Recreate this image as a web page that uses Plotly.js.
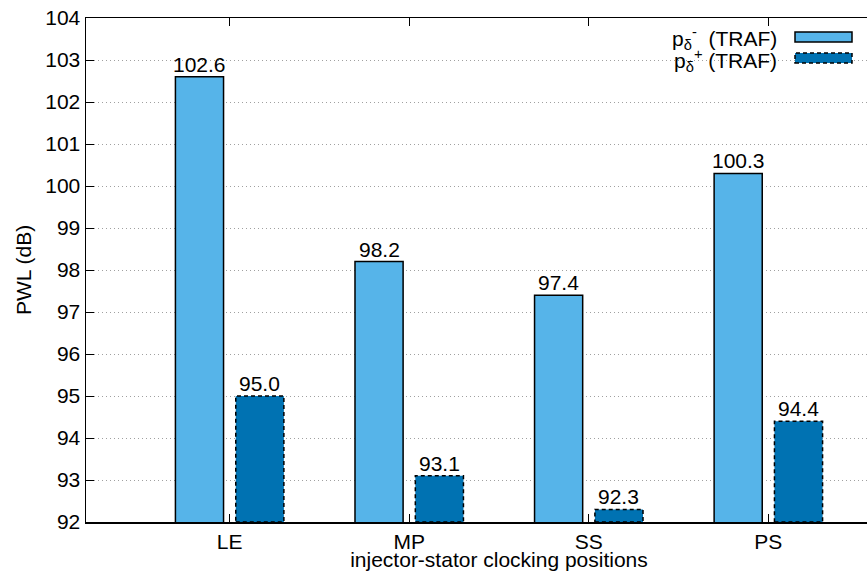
<!DOCTYPE html>
<html>
<head>
<meta charset="utf-8">
<script src="https://cdn.plot.ly/plotly-3.0.1.min.js"></script>
<style>
  html, body { margin: 0; padding: 0; overflow: hidden; background: #fff; }
  #chart { width: 912px; height: 571px; }
</style>
</head>
<body>
<div id="chart"></div>
<script>
// Clocking positions and sound power levels for both pressure-side groups
const positions = ['LE', 'MP', 'SS', 'PS'];
const pwlMinus = [102.6, 98.2, 97.4, 100.3];
const pwlPlus = [95.0, 93.1, 92.3, 94.4];
const seriesNames = ['p<sub>δ</sub><sup>-</sup>  (TRAF)', 'p<sub>δ</sub><sup>+</sup> (TRAF)'];

const FONT = 'Liberation Sans, Arial, sans-serif';
const FS = 21;
const LIGHT = '#56b4e9';
const DARK = '#0072b2';
const BAR_W = 0.268;
const OFF1 = -0.302;
const OFF2 = 0.034;
const Y0 = 92;

const idx = positions.map((_, i) => i);

const barLabels = (vals, off) => vals.map((v, i) => ({
  xref: 'x', yref: 'y', x: i + off + BAR_W / 2, y: v,
  xanchor: 'center', yanchor: 'bottom', yshift: -1,
  text: v.toFixed(1), showarrow: false,
  font: { family: FONT, size: FS, color: '#000' }
}));

const traces = [
  {
    type: 'bar', x: idx, y: pwlMinus,
    width: BAR_W, offset: OFF1,
    marker: { color: LIGHT, line: { color: '#000', width: 1.5 } },
    showlegend: false, hoverinfo: 'y'
  },
  {
    type: 'bar', x: idx, y: pwlPlus,
    width: BAR_W, offset: OFF2,
    marker: { color: DARK, line: { width: 0 } },
    showlegend: false, hoverinfo: 'y'
  }
];

// dashed outlines around the second series
const shapes = pwlPlus.map((v, i) => ({
  type: 'rect', xref: 'x', yref: 'y', layer: 'above',
  x0: i + OFF2, x1: i + OFF2 + BAR_W, y0: Y0, y1: v,
  line: { color: '#000', width: 1.5, dash: '4px,3px' }, fillcolor: 'rgba(0,0,0,0)'
}));

// key: white backing plus sample boxes to the right of the labels
const px = p => (p - 86) / 826;
const py = p => (522 - p) / 504;
shapes.push({
  type: 'rect', xref: 'paper', yref: 'paper', layer: 'between',
  x0: px(662), x1: 1, y0: py(68), y1: py(19),
  line: { width: 0 }, fillcolor: '#fff'
});
shapes.push({
  type: 'rect', xref: 'paper', yref: 'paper', layer: 'above',
  x0: px(795), x1: px(852), y0: py(42), y1: py(32),
  line: { color: '#000', width: 1.5 }, fillcolor: LIGHT
});
shapes.push({
  type: 'rect', xref: 'paper', yref: 'paper', layer: 'above',
  x0: px(795), x1: px(852), y0: py(63), y1: py(53),
  line: { color: '#000', width: 1.5, dash: '4px,3px' }, fillcolor: DARK
});

const annotations = [
  { xref: 'paper', yref: 'paper', x: px(779), y: py(39), xanchor: 'right', yanchor: 'middle',
    text: seriesNames[0], showarrow: false, font: { family: FONT, size: FS, color: '#000' } },
  { xref: 'paper', yref: 'paper', x: px(779), y: py(60), xanchor: 'right', yanchor: 'middle',
    text: seriesNames[1], showarrow: false, font: { family: FONT, size: FS, color: '#000' } }
].concat(barLabels(pwlMinus, OFF1), barLabels(pwlPlus, OFF2));

const layout = {
  width: 912, height: 571,
  margin: { l: 86, r: 0, t: 18, b: 49 },
  paper_bgcolor: '#fff', plot_bgcolor: '#fff',
  barmode: 'overlay',
  font: { family: FONT, size: FS, color: '#000' },
  xaxis: {
    range: [-0.8, 3.8],
    tickvals: idx, ticktext: positions,
    ticks: 'inside', ticklen: 8, tickcolor: '#000', tickwidth: 1,
    showline: true, linecolor: '#000', linewidth: 1.5, mirror: 'ticks',
    showgrid: false, zeroline: false,
    tickfont: { family: FONT, size: FS, color: '#000' },
    title: { text: 'injector-stator clocking positions', standoff: 0,
             font: { family: FONT, size: FS, color: '#000' } }
  },
  yaxis: {
    range: [92, 104], dtick: 1, tick0: 92,
    ticks: 'inside', ticklen: 8, tickcolor: '#000', tickwidth: 1,
    showline: true, linecolor: '#000', linewidth: 1.5, mirror: false,
    showgrid: true, gridcolor: '#a0a0a0', griddash: '1px,3px', gridwidth: 1,
    zeroline: false,
    tickfont: { family: FONT, size: FS, color: '#000' },
    title: { text: 'PWL (dB)', standoff: 8,
             font: { family: FONT, size: FS, color: '#000' } }
  },
  shapes: shapes,
  annotations: annotations
};

Plotly.newPlot('chart', traces, layout, { staticPlot: true, displayModeBar: false });
</script>
</body>
</html>
